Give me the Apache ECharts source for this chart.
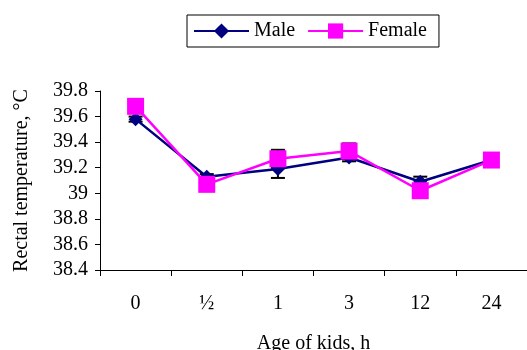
<!DOCTYPE html>
<html><head><meta charset="utf-8">
<script src="https://cdn.jsdelivr.net/npm/echarts@6/dist/echarts.min.js"></script>
<style>html,body{margin:0;padding:0;background:#fff}#c{width:527px;height:350px}</style>
</head><body><div id="c"></div>
<script>
var categories = ['0', '½', '1', '3', '12', '24'];
var maleValues = [39.58, 39.13, 39.19, 39.28, 39.09, 39.26];
var femaleValues = [39.68, 39.07, 39.27, 39.33, 39.02, 39.26];
var maleErr = [0.02, 0.02, 0.07, 0.03, 0.04, 0.01];
var femaleErr = [0.02, 0.02, 0.07, 0.06, 0.05, 0.01];

var FONT = '"Liberation Serif", "Times New Roman", serif';
var FS = 20;

function errData(vals, errs) {
  return vals.map(function (v, i) { return [i, v - errs[i], v + errs[i]]; });
}
function renderErr(params, api) {
  var lo = api.coord([api.value(0), api.value(1)]);
  var hi = api.coord([api.value(0), api.value(2)]);
  var hw = 7;
  var st = { stroke: '#000', lineWidth: 2 };
  return { type: 'group', children: [
    { type: 'line', shape: { x1: lo[0], y1: lo[1], x2: hi[0], y2: hi[1] }, style: st },
    { type: 'line', shape: { x1: lo[0] - hw, y1: lo[1], x2: lo[0] + hw, y2: lo[1] }, style: st },
    { type: 'line', shape: { x1: hi[0] - hw, y1: hi[1], x2: hi[0] + hw, y2: hi[1] }, style: st }
  ]};
}

var chart = echarts.init(document.getElementById('c'));
chart.setOption({
  animation: false,
  textStyle: { fontFamily: FONT },
  legend: {
    left: 187, top: 15,
    itemWidth: 55, itemHeight: 19, itemGap: 12,
    padding: [6, 12, 6, 6],
    borderColor: '#000', borderWidth: 1,
    textStyle: { fontFamily: FONT, fontSize: FS, color: '#000' },
    data: ['Male', 'Female']
  },
  grid: { left: 100, top: 91, right: 0, bottom: 80, outerBoundsMode: 'none', containLabel: false },
  xAxis: {
    type: 'category', data: categories, boundaryGap: true,
    name: 'Age of kids, h', nameLocation: 'middle', nameGap: 64,
    nameTextStyle: { fontFamily: FONT, fontSize: FS, color: '#000' },
    axisLine: { lineStyle: { color: '#000', width: 1 } },
    axisTick: { show: true, length: 6, lineStyle: { color: '#000' } },
    axisLabel: { fontFamily: FONT, fontSize: FS, color: '#000', margin: 24 },
    splitLine: { show: false }
  },
  yAxis: {
    type: 'value', min: 38.4, max: 39.8, interval: 0.2,
    name: 'Rectal temperature, \u00B0C', nameLocation: 'middle', nameGap: 68,
    nameTextStyle: { fontFamily: FONT, fontSize: FS, color: '#000' },
    axisLine: { show: true, lineStyle: { color: '#000', width: 1 } },
    axisTick: { show: true, length: 5, lineStyle: { color: '#000' } },
    axisLabel: { fontFamily: FONT, fontSize: FS, color: '#000', margin: 12 },
    splitLine: { show: false }
  },
  series: [
    { type: 'custom', name: 'maleErr', renderItem: renderErr, data: errData(maleValues, maleErr), z: 1, silent: true },
    { type: 'custom', name: 'femaleErr', renderItem: renderErr, data: errData(femaleValues, femaleErr), z: 1, silent: true },
    {
      type: 'line', name: 'Male', data: maleValues, z: 3,
      symbol: 'diamond', symbolSize: 14,
      itemStyle: { color: '#000080' },
      lineStyle: { color: '#000080', width: 2.5 }
    },
    {
      type: 'line', name: 'Female', data: femaleValues, z: 4,
      symbol: 'rect', symbolSize: 17,
      itemStyle: { color: '#FF00FF' },
      lineStyle: { color: '#FF00FF', width: 2.5 }
    }
  ]
});
</script></body></html>
